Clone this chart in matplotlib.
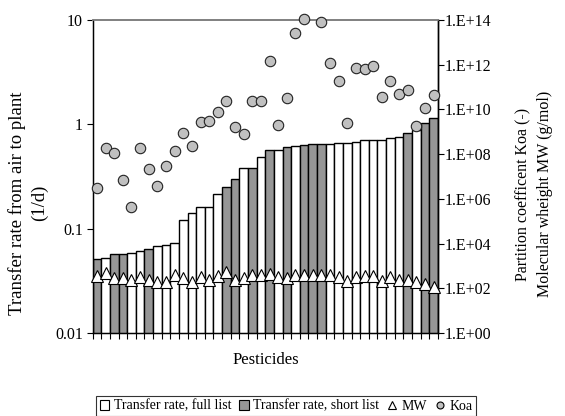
import numpy as np
import matplotlib
matplotlib.use("Agg")
import matplotlib.pyplot as plt
from matplotlib.patches import Patch
from matplotlib.lines import Line2D
from matplotlib.ticker import FixedLocator, FuncFormatter, NullLocator, NullFormatter

# Transfer rate air -> plant (1/d), sorted ascending, one value per pesticide
transfer_rate = [0.0512, 0.0524, 0.0576, 0.0576, 0.0589, 0.0615, 0.0638, 0.0678, 0.0702, 0.0724,
                 0.121, 0.142, 0.162, 0.162, 0.213, 0.252, 0.297, 0.384, 0.384, 0.490,
                 0.564, 0.564, 0.602, 0.624, 0.627, 0.648, 0.648, 0.648, 0.667, 0.667,
                 0.682, 0.713, 0.713, 0.713, 0.745, 0.761, 0.820, 0.877, 1.04, 1.14]

# 1 = pesticide also in the short list, 0 = full list only
short_list = [1, 0, 1, 1, 0, 0, 1, 0, 0, 0,
              0, 0, 0, 0, 0, 1, 1, 0, 1, 0,
              1, 0, 1, 0, 1, 1, 1, 0, 0, 0,
              0, 0, 0, 0, 0, 0, 1, 0, 1, 1]

# Molecular weight (g/mol)
mw = [354, 482, 288, 288, 235, 336, 235, 201, 201, 393,
      274, 197, 330, 235, 354, 551, 235, 279, 393, 393,
      435, 336, 274, 381, 381, 381, 381, 381, 319, 212,
      330, 343, 343, 212, 310, 227, 227, 191, 160, 118]

# Octanol-air partition coefficient Koa (-); NaN where no value is available
koa = [3.2e6, 1.94e8, 1.16e8, 6.96e6, 4.19e5, 1.94e8, 2.1e7, 3.75e6, 2.94e7, 1.38e8,
       9.08e8, 2.24e8, 2.65e9, 3.13e9, 7.89e9, 2.45e10, 1.68e9, 7.7e8, 2.45e10, 2.45e10,
       1.42e12, 1.94e9, 3.34e10, 2.75e13, 1.1e14, np.nan, 8.1e13, 1.23e12, 1.86e11, 2.54e9,
       7.33e11, 6.21e11, 8.73e11, 3.7e10, 1.86e11, 4.89e10, 7.38e10, 1.87e9, 1.12e10, 4.4e10]

legend_labels = ["Transfer rate, full list", "Transfer rate, short list", "MW", "Koa"]

GRAY_BAR = "#969696"
GRAY_DOT = "#C0C0C0"

plt.rcParams["font.family"] = ["Liberation Serif", "DejaVu Serif"]
plt.rcParams["font.size"] = 10

fig = plt.figure(figsize=(5.65, 4.16), dpi=100)
ax = fig.add_axes([0.164, 0.1995, 0.611, 0.7525])
x = np.arange(len(transfer_rate))
colors = [GRAY_BAR if s else "white" for s in short_list]

ax.set_yscale("log")
ax.bar(x, transfer_rate, width=1.0, color=colors, edgecolor="black", linewidth=1.0, zorder=2)
ax.set_ylim(0.01, 10)
ax.set_xlim(-0.5, len(x) - 0.5)
ax.yaxis.set_major_locator(FixedLocator([0.01, 0.1, 1, 10]))
ax.yaxis.set_major_formatter(FuncFormatter(lambda v, p: f"{v:g}"))
ax.yaxis.set_minor_locator(NullLocator())
ax.set_xticks(np.arange(-0.5, len(x), 1.0))
ax.xaxis.set_major_formatter(NullFormatter())
ax.tick_params(axis="both", direction="out", length=4, width=0.8, colors="black", labelsize=11.5)
ax.tick_params(axis="y", pad=3)

for side in ("left", "bottom", "right"):
    ax.spines[side].set_color("black")
    ax.spines[side].set_linewidth(1.0)
ax.spines["top"].set_color("#808080")
ax.spines["top"].set_linewidth(1.2)

ax2 = ax.twinx()
ax2.set_yscale("log")
ax2.plot(x, mw, linestyle="none", marker="^", markersize=8.5, markerfacecolor="white",
         markeredgecolor="black", markeredgewidth=0.8, zorder=3, clip_on=False)
ax2.plot(x, koa, linestyle="none", marker="o", markersize=7.5, markerfacecolor=GRAY_DOT,
         markeredgecolor="#222222", markeredgewidth=0.8, zorder=4, clip_on=False)
ax2.set_ylim(1, 1e14)
ax2.yaxis.set_major_locator(FixedLocator(10.0 ** np.arange(0, 15, 2)))
ax2.yaxis.set_major_formatter(FuncFormatter(lambda v, p: "1.E+%02d" % int(round(np.log10(v)))))
ax2.yaxis.set_minor_locator(NullLocator())
ax2.tick_params(axis="y", direction="out", length=4, width=0.8, labelsize=11.5, pad=1)
ax2.spines["right"].set_color("black")
ax2.spines["right"].set_linewidth(1.0)
ax2.spines["top"].set_color("#808080")
ax2.spines["top"].set_linewidth(1.2)

fig.text(28 / 565, 1 - 203 / 416, "Transfer rate from air to plant\n(1/d)", rotation=90,
         ha="center", va="center", multialignment="center", fontsize=13.5, linespacing=1.4)
fig.text(534 / 565, 1 - 194 / 416, "Partition coefficent Koa (-)\nMolecular wheight MW (g/mol)",
         rotation=90, ha="center", va="center", multialignment="center", fontsize=11.5,
         linespacing=1.45)
fig.text(266 / 565, 1 - 360 / 416, "Pesticides", ha="center", va="center", fontsize=12)

handles = [
    Patch(facecolor="white", edgecolor="black", linewidth=0.8),
    Patch(facecolor=GRAY_BAR, edgecolor="black", linewidth=0.8),
    Line2D([], [], linestyle="none", marker="^", markersize=6, markerfacecolor="white",
           markeredgecolor="black", markeredgewidth=0.8),
    Line2D([], [], linestyle="none", marker="o", markersize=5, markerfacecolor=GRAY_DOT,
           markeredgecolor="black", markeredgewidth=0.8),
]
leg = fig.legend(handles, legend_labels, loc="center", bbox_to_anchor=(286 / 565, 1 - 406 / 416),
                 ncol=4, frameon=True, fancybox=False, fontsize=10, handlelength=0.7,
                 handleheight=0.7, handletextpad=0.3, columnspacing=0.6, borderpad=0.25)
leg.get_frame().set_edgecolor("black")
leg.get_frame().set_linewidth(0.8)

fig.savefig("out.png", dpi=100)
